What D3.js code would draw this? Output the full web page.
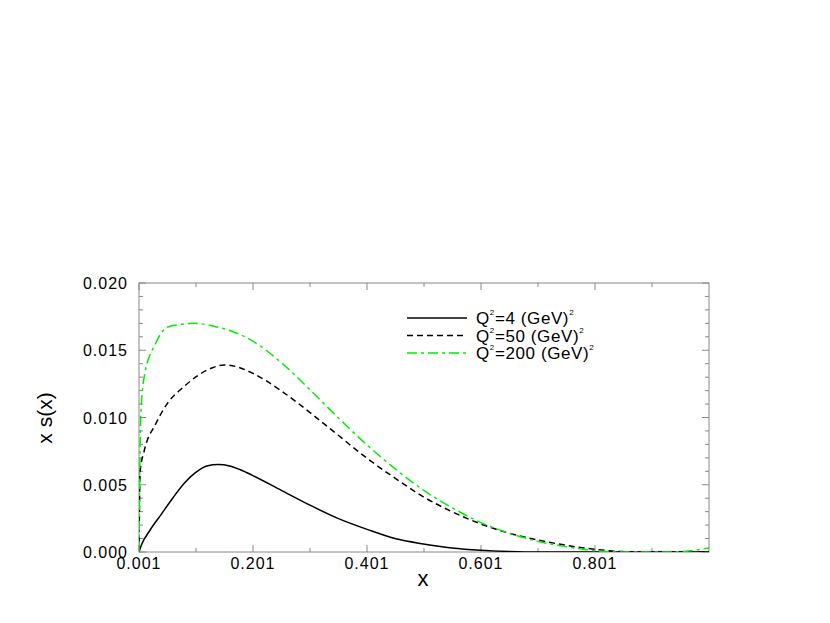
<!DOCTYPE html>
<html><head><meta charset="utf-8">
<script src="https://cdn.jsdelivr.net/npm/d3@7"></script>
<style>body{margin:0;background:#fff}text{font-family:"Liberation Sans",Arial,sans-serif}</style>
</head><body><div id="chart"></div>
<script>
// curves
var xs4   = [0.001,0.005,0.02,0.04,0.06,0.08,0.1,0.12,0.14,0.16,0.18,0.2,0.25,0.3,0.35,0.4,0.45,0.5,0.55,0.6,0.65,0.7,0.95,1.001];
var ys4   = [0,0.0005,0.0016,0.0028,0.0040,0.0051,0.0059,0.0064,0.0065,0.0064,0.0061,0.0057,0.0046,0.0035,0.0025,0.0017,0.0010,0.0006,0.0003,0.00013,0.00004,0,0,0];
var xs50  = [0.001,0.003,0.01,0.03,0.05,0.08,0.1,0.13,0.15,0.17,0.2,0.25,0.3,0.35,0.4,0.45,0.5,0.55,0.6,0.65,0.7,0.75,0.8,0.85,0.9,1.001];
var ys50  = [0,0.006,0.0075,0.0095,0.011,0.0123,0.013,0.0137,0.0139,0.0138,0.0133,0.012,0.0104,0.0087,0.0070,0.0055,0.0041,0.0030,0.0021,0.0014,0.0009,0.0005,0.0002,0.00003,0,0];
var xs200 = [0.001,0.004,0.01,0.03,0.05,0.07,0.1,0.13,0.15,0.2,0.25,0.3,0.35,0.4,0.45,0.5,0.55,0.6,0.65,0.7,0.75,0.8,0.85,0.94,0.97,1.001];
var ys200 = [0,0.01,0.013,0.0155,0.0167,0.0169,0.017,0.0168,0.0166,0.0157,0.0141,0.0121,0.0100,0.0080,0.0062,0.0046,0.0033,0.0022,0.0014,0.0008,0.0004,0.0001,0,0,0.0001,0.0003];
var xTicks = [0.001,0.201,0.401,0.601,0.801];
var yTicks = [0,0.005,0.010,0.015,0.020];
var labels = ["=4 (GeV)","=50 (GeV)","=200 (GeV)"];

var svg = d3.select("#chart").append("svg").attr("width",830).attr("height",623);
var x = d3.scaleLinear().domain([0.001,1.001]).range([139,709]);
var y = d3.scaleLinear().domain([0,0.02]).range([552,283]);

svg.append("defs").append("clipPath").attr("id","clip")
  .append("rect").attr("x",139).attr("y",283).attr("width",570).attr("height",269);

// frame
svg.append("rect").attr("x",139).attr("y",283).attr("width",570).attr("height",269)
  .attr("fill","none").attr("stroke","#888").attr("stroke-width",1);

// ticks (inward, minor included)
var g = svg.append("g").attr("stroke","#888");
d3.range(0.001,1.0,0.1).forEach(function(v,i){
  var L = i%2==0 ? 7 : 4;
  g.append("line").attr("x1",x(v)).attr("x2",x(v)).attr("y1",552).attr("y2",552-L);
  g.append("line").attr("x1",x(v)).attr("x2",x(v)).attr("y1",283).attr("y2",283+L);
});
d3.range(0,21).forEach(function(k){
  var v = k*0.001, L = k%5==0 ? 7 : 4;
  g.append("line").attr("x1",139).attr("x2",139+L).attr("y1",y(v)).attr("y2",y(v));
  g.append("line").attr("x1",709).attr("x2",709-L).attr("y1",y(v)).attr("y2",y(v));
});

svg.selectAll(".xt").data(xTicks).enter().append("text")
  .attr("x",d=>x(d)).attr("y",569).attr("text-anchor","middle").attr("font-size",16)
  .attr("letter-spacing",1).text(d=>d3.format(".3f")(d));
svg.selectAll(".yt").data(yTicks).enter().append("text")
  .attr("x",128).attr("y",d=>y(d)+6).attr("text-anchor","end").attr("font-size",16)
  .attr("letter-spacing",1).text(d=>d3.format(".3f")(d));

svg.append("text").attr("x",423).attr("y",586).attr("text-anchor","middle").attr("font-size",22).text("x");
svg.append("text").attr("transform","translate(52,418) rotate(-90)").attr("text-anchor","middle")
  .attr("font-size",21).text("x s(x)");

var line = d3.line().x(d=>x(d[0])).y(d=>y(d[1])).curve(d3.curveMonotoneX);
var series = [
  {xs:xs4, ys:ys4, color:"#000", dash:null},
  {xs:xs50, ys:ys50, color:"#000", dash:"6,4"},
  {xs:xs200, ys:ys200, color:"#00ee00", dash:"10,4,3,4"}
];
series.forEach(function(s,i){
  svg.append("path").attr("clip-path","url(#clip)")
    .attr("d", line(s.xs.map((v,j)=>[v,s.ys[j]])))
    .attr("fill","none").attr("stroke",s.color).attr("stroke-width",1.5)
    .attr("stroke-dasharray",s.dash);
  var ly = 318 + i*17.5;
  svg.append("line").attr("x1",407).attr("x2",467).attr("y1",ly).attr("y2",ly)
    .attr("stroke",s.color).attr("stroke-width",1.5).attr("stroke-dasharray",s.dash);
  var t = svg.append("text").attr("x",476).attr("y",ly+6).attr("font-size",17).attr("letter-spacing",0.6);
  t.append("tspan").text("Q");
  t.append("tspan").attr("font-size",8).attr("dy",-9).text("2");
  t.append("tspan").attr("dy",9).text(labels[i]);
  t.append("tspan").attr("font-size",8).attr("dy",-9).text("2");
});
</script></body></html>
